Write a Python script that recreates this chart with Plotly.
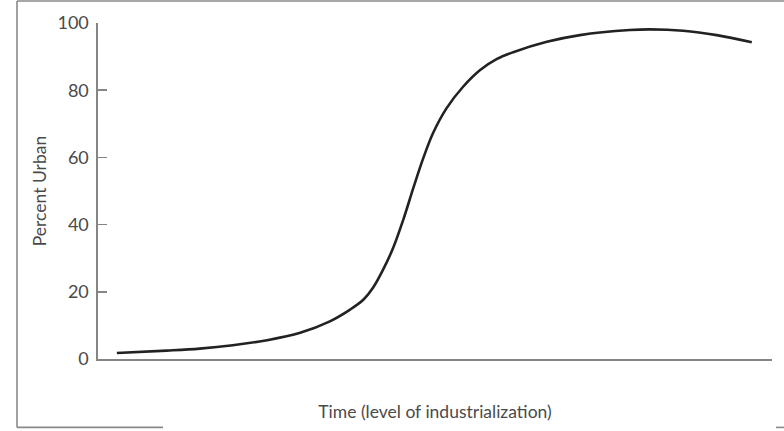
import plotly.graph_objects as go

# Time (arbitrary units, 0-100 across the axis) and percent urban
time_vals = [2.8, 10.2, 15.1, 20.0, 25.1, 30.0, 34.4, 37.4, 39.4, 40.8, 42.3, 43.8, 45.3,
             46.8, 48.3, 49.7, 51.7, 54.2, 56.7, 59.2, 61.6, 66.6, 71.5, 78.9, 81.9, 86.8,
             91.8, 97.0]
percent_urban = [1.8, 2.5, 3.1, 4.1, 5.6, 7.8, 11.2, 14.7, 17.7, 21.2, 26.6, 33.1, 41.5,
                 51.0, 60.0, 67.2, 74.6, 81.1, 86.0, 89.3, 91.3, 94.4, 96.4, 97.9, 98.1,
                 97.7, 96.4, 94.3]
y_ticks = [0, 20, 40, 60, 80, 100]

FONT = "Lato, 'Open Sans', sans-serif"
AXIS_COLOR = "#858585"
TEXT_COLOR = "#4a4a4a"

fig = go.Figure()
fig.add_trace(go.Scatter(
    x=time_vals, y=percent_urban, mode="lines",
    line=dict(color="#222222", width=2.6, shape="spline", smoothing=1.0),
    showlegend=False, hoverinfo="skip",
))

W, H = 784, 431
L, R, T, B = 98, 12, 23, 71.5
pw, ph = W - L - R, H - T - B

def px(x):
    return (x - L) / pw

def py(y):
    return (H - B - y) / ph

frame = dict(color="#8a8a8a", width=1.6)
shapes = [
    dict(type="line", xref="paper", yref="paper", x0=px(17), x1=px(17), y0=py(1), y1=py(428), line=frame),
    dict(type="line", xref="paper", yref="paper", x0=px(17), x1=px(790), y0=py(1), y1=py(1), line=frame),
    dict(type="line", xref="paper", yref="paper", x0=px(17), x1=px(163), y0=py(428), y1=py(428), line=frame),
    dict(type="line", xref="paper", yref="paper", x0=px(776), x1=px(790), y0=py(428), y1=py(428), line=frame),
]

fig.update_layout(
    width=W, height=H,
    margin=dict(l=L, r=R, t=T, b=B, pad=0),
    paper_bgcolor="white", plot_bgcolor="white",
    font=dict(family=FONT, color=TEXT_COLOR, size=18),
    shapes=shapes,
    xaxis=dict(
        range=[0, 100], showgrid=False, zeroline=False,
        showline=True, linecolor=AXIS_COLOR, linewidth=1.6,
        showticklabels=False, ticks="",
        title=dict(text="Time (level of industrialization)", standoff=46,
                   font=dict(size=17.5, family=FONT, color=TEXT_COLOR)),
    ),
    yaxis=dict(
        range=[0, 100], showgrid=False, zeroline=False,
        showline=True, linecolor=AXIS_COLOR, linewidth=1.6,
        tickmode="array", tickvals=y_ticks, ticktext=[str(v) for v in y_ticks],
        ticks="inside", ticklen=9, tickwidth=1.6, tickcolor=AXIS_COLOR,
        ticklabelstandoff=4,
        tickfont=dict(size=18, family=FONT, color=TEXT_COLOR),
        title=dict(text="Percent Urban", standoff=6,
                   font=dict(size=17.5, family=FONT, color=TEXT_COLOR)),
    ),
)

fig.write_html(
    "out.html",
    config={"displayModeBar": False, "staticPlot": True},
    post_script="document.body.style.margin='0';document.body.style.overflow='hidden';",
)
